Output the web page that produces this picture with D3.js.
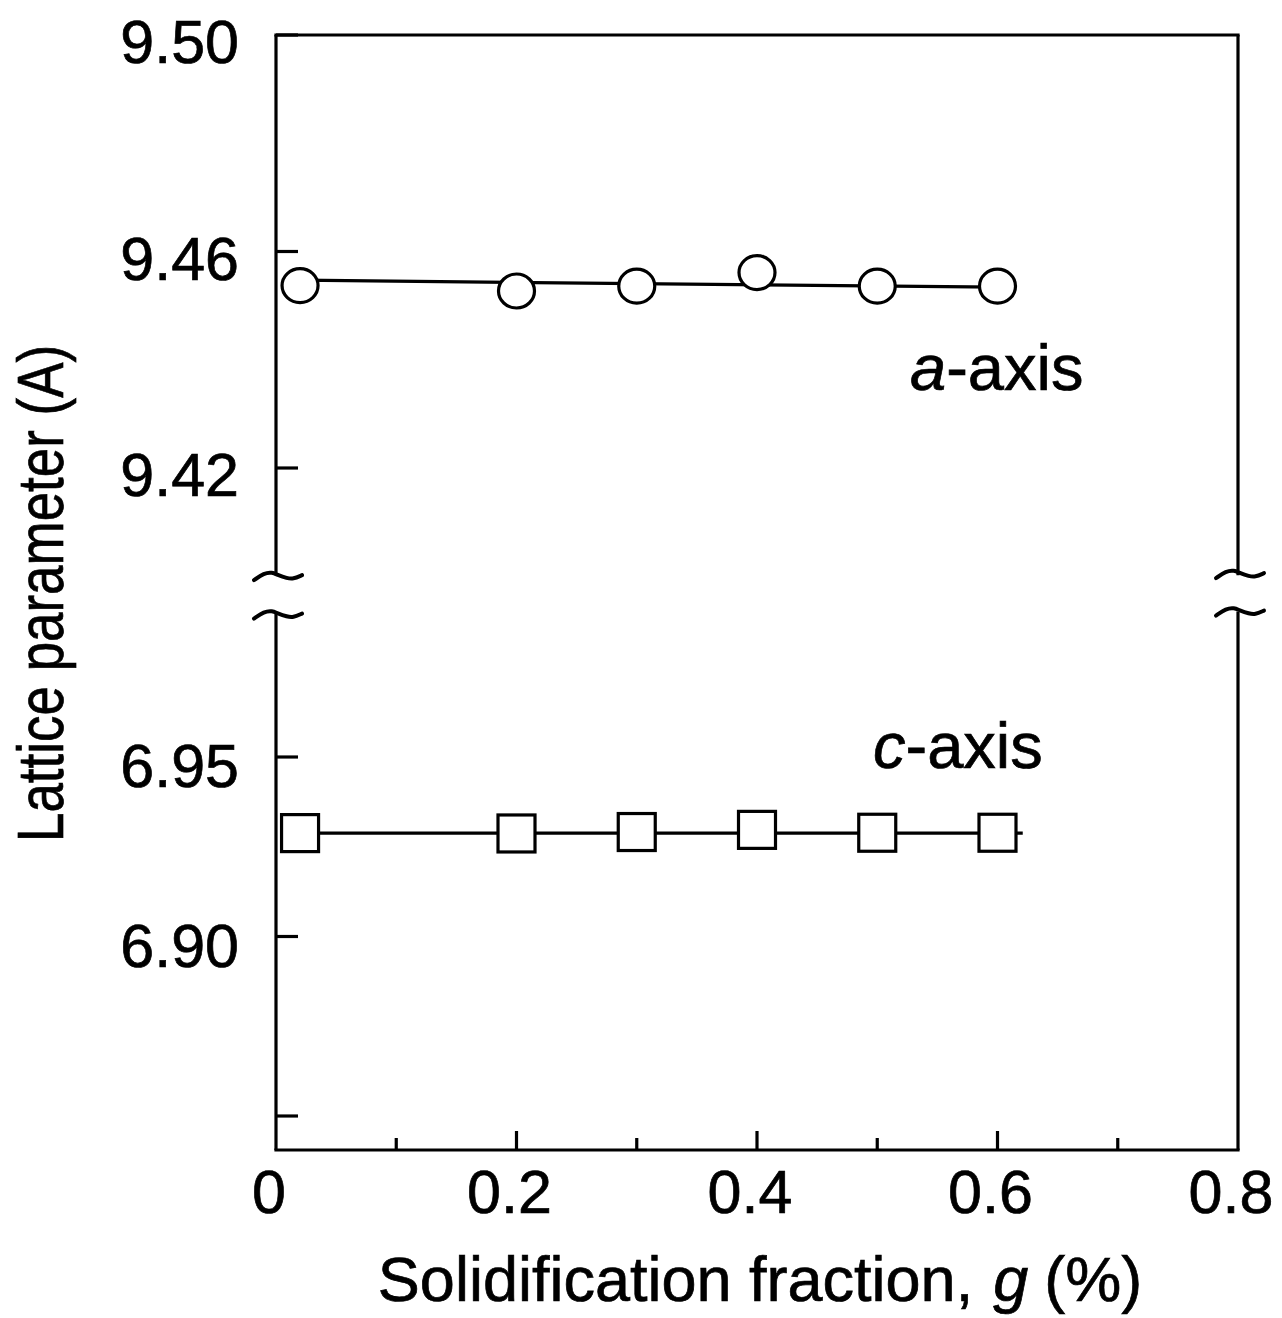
<!DOCTYPE html>
<html><head><meta charset="utf-8">
<script src="https://cdn.jsdelivr.net/npm/d3@7"></script>
<style>body{margin:0;background:#fff}svg{display:block}text{font-family:"Liberation Sans",Arial,Helvetica,sans-serif;fill:#000;stroke:#000;stroke-width:0.7px}</style>
</head><body>
<script>
// ---- data ----
const fractions = [0.02, 0.2, 0.3, 0.4, 0.5, 0.6];
const aAxis = [9.4537, 9.4527, 9.4536, 9.4561, 9.4536, 9.4536];
const cAxis = [6.9288, 6.9287, 6.9291, 6.9297, 6.9289, 6.9289];
const aFitX = [0.02, 0.6];
const aFitY = [9.4547, 9.4534];
const cFitX = [0.02, 0.621];
const cFitY = [6.9288, 6.9288];
const xTicksMajor = [0, 0.2, 0.4, 0.6, 0.8];
const xTicksMinor = [0.1, 0.3, 0.5, 0.7];
const xTickLabels = ["0", "0.2", "0.4", "0.6", "0.8"];
const yUpperTicks = [9.50, 9.46, 9.42];
const yUpperLabels = ["9.50", "9.46", "9.42"];
const yLowerTicks = [6.95, 6.90, 6.85];
const yLowerLabels = ["6.95", "6.90", ""];
const upperBottom = 9.4002, lowerTop = 6.9905;

const W = 1282, H = 1318;
const svg = d3.select("body").append("svg").attr("width", W).attr("height", H);

const L = 276, R = 1238, T = 35, B = 1150;
const x = d3.scaleLinear().domain([0, 0.8]).range([L, R]);
const yU = d3.scaleLinear().domain([9.42, 9.50]).range([468, T]);
const yL = d3.scaleLinear().domain([6.85, 6.95]).range([1116, 757]);

const sw = 3.2;
const g = svg.append("g").attr("stroke", "#000").attr("fill", "none").attr("stroke-width", sw);

const yBreakU = yU(upperBottom), yBreakL = yL(lowerTop);
// frame
g.append("line").attr("x1", L).attr("x2", R).attr("y1", T).attr("y2", T).attr("stroke-linecap","square");
g.append("line").attr("x1", L).attr("x2", R).attr("y1", B).attr("y2", B).attr("stroke-linecap","square");
[L, R].forEach(xx => {
  g.append("line").attr("x1", xx).attr("x2", xx).attr("y1", T).attr("y2", yBreakU);
  g.append("line").attr("x1", xx).attr("x2", xx).attr("y1", yBreakL).attr("y2", B);
});

// break marks
const tilde = d3.line().curve(d3.curveBasis);
const wave = [[-22, 5], [-12, -2], [-4, -3], [2, 0], [11, 3], [17, 4], [26, 0]];
[[L, yBreakU], [L, yBreakL + 2], [R, yBreakU - 2], [R, yBreakL - 1]].forEach(([cx, cy]) => {
  g.append("path").attr("d", tilde(wave.map(p => [cx + p[0], cy + p[1]])))
    .attr("stroke-width", 4).attr("stroke-linecap", "round");
});

// x ticks (inward)
xTicksMajor.slice(1, -1).forEach(v => g.append("line").attr("x1", x(v)).attr("x2", x(v)).attr("y1", B).attr("y2", B - 19));
xTicksMinor.forEach(v => g.append("line").attr("x1", x(v)).attr("x2", x(v)).attr("y1", B).attr("y2", B - 12));
// y ticks
yUpperTicks.forEach(v => g.append("line").attr("x1", L).attr("x2", L + 22).attr("y1", yU(v)).attr("y2", yU(v)));
yLowerTicks.forEach(v => g.append("line").attr("x1", L).attr("x2", L + 22).attr("y1", yL(v)).attr("y2", yL(v)));

const fs = 61;
const lbl = svg.append("g").attr("font-size", fs);
xTicksMajor.forEach((v, i) => lbl.append("text").attr("x", x(v) - 7).attr("y", 1213).attr("text-anchor", "middle").text(xTickLabels[i]));
yUpperTicks.forEach((v, i) => lbl.append("text").attr("x", 239).attr("y", yU(v) + 28).attr("text-anchor", "end").text(yUpperLabels[i]));
yLowerTicks.forEach((v, i) => lbl.append("text").attr("x", 239).attr("y", yL(v) + 30).attr("text-anchor", "end").text(yLowerLabels[i]));

// axis titles
const xt = svg.append("text").attr("x", 760).attr("y", 1301).attr("font-size", 63).attr("text-anchor", "middle");
xt.append("tspan").text("Solidification fraction,");
xt.append("tspan").attr("dx", 20).attr("font-style", "italic").text("g");
xt.append("tspan").attr("dx", 16).text("(%)");
svg.append("text").attr("transform", "translate(63,842) rotate(-90) scale(0.827,1)").attr("font-size", 64)
  .text("Lattice parameter (A)");

// fit lines
const line = d3.line();
g.append("path").attr("d", line(aFitX.map((v, i) => [x(v), yU(aFitY[i])])));
g.append("path").attr("d", line(cFitX.map((v, i) => [x(v), yL(cFitY[i])])));

// markers
g.selectAll("ellipse.a").data(fractions).join("ellipse").attr("class", "a")
  .attr("cx", d => x(d)).attr("cy", (d, i) => yU(aAxis[i])).attr("rx", 18).attr("ry", 17)
  .attr("fill", "#fff");
const s = 37;
g.selectAll("rect.c").data(fractions).join("rect").attr("class", "c")
  .attr("x", d => x(d) - s / 2).attr("y", (d, i) => yL(cAxis[i]) - s / 2).attr("width", s).attr("height", s)
  .attr("fill", "#fff");

// series labels
const la = svg.append("text").attr("x", 910).attr("y", 390).attr("font-size", 65);
la.append("tspan").attr("font-style", "italic").text("a");
la.append("tspan").text("-axis");
const lc = svg.append("text").attr("x", 873).attr("y", 768).attr("font-size", 65);
lc.append("tspan").attr("font-style", "italic").text("c");
lc.append("tspan").text("-axis");
</script>
</body></html>
